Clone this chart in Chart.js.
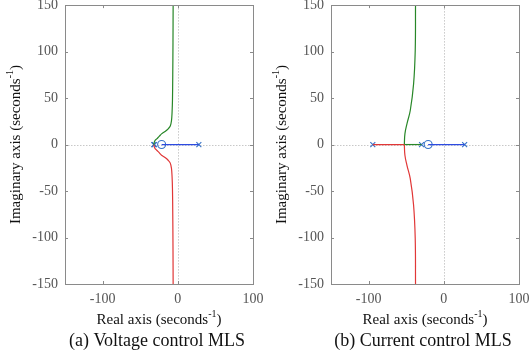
<!DOCTYPE html>
<html>
<head>
<meta charset="utf-8">
<script src="https://cdn.jsdelivr.net/npm/chart.js@4.4.1/dist/chart.umd.min.js"></script>
<style>
  body { margin: 0; background: #fff; }
  .wrap { display: flex; width: 532px; height: 351px; }
  .box { position: relative; width: 266px; height: 351px; }
</style>
</head>
<body>
<div class="wrap">
  <div class="box"><canvas id="chartA"></canvas></div>
  <div class="box"><canvas id="chartB"></canvas></div>
</div>
<script>
// tick labels
const xTicks = [-100, 0, 100];
const yTicks = [-150, -100, -50, 0, 50, 100, 150];

// (a) voltage control
const polesA = [-32, -31, 28];
const zerosA = [-21.5];
const blueA_x = [-21.5, 28];
const greenA_x = [-32, -30.5, -28, -24.5, -21.6, -17, -12.8, -10, -8.4, -7.6, -7.1, -6.7, -6.4, -6.2];
const greenA_y = [0, 4, 6.1, 9, 11.5, 14, 16.9, 20, 25.8, 35, 47, 75, 110, 150];
const redA_x = [-32, -30.5, -28, -24.5, -21.6, -17, -12.8, -10, -8.4, -7.6, -7.1, -6.7, -6.4, -6.2];
const redA_y = [0, -4, -6.1, -9, -11.5, -14, -16.9, -20, -25.8, -35, -47, -75, -110, -150];

// (b) current control
const polesB = [-94.4, -29.6, 27.7];
const zerosB = [-20.8];
const blueB_x = [-20.8, 27.7];
const redRealB_x = [-94.4, -52.5];
const greenRealB_x = [-29.6, -52.5];
const greenB_x = [-52.5, -51.7, -49, -44.6, -40.2, -38, -37.6];
const greenB_y = [0, 11.5, 22.3, 36.6, 65, 101, 150];
const redB_x = [-52.5, -51.7, -49, -44.6, -40.2, -38, -37.6];
const redB_y = [0, -11.5, -22.3, -36.6, -65, -101, -150];

const BLUE = "rgb(45, 75, 225)";
const MARK = "rgb(55, 115, 200)";
const GREEN = "rgb(40, 135, 40)";
const RED = "rgb(225, 55, 55)";
const SERIF = "'Liberation Serif', 'DejaVu Serif', serif";

function pts(xs, ys) {
  return xs.map((x, i) => ({ x: x, y: ys ? ys[i] : 0 }));
}

function lineSet(data, color) {
  return {
    data: data,
    showLine: true,
    borderColor: color,
    borderWidth: 1.2,
    pointRadius: 0,
    tension: 0.4,
    fill: false,
  };
}

function markSet(data, style) {
  return {
    data: data,
    showLine: false,
    pointStyle: style,
    pointRadius: style === "circle" ? 4 : 3.5,
    borderColor: MARK,
    backgroundColor: "rgba(0,0,0,0)",
    borderWidth: 1.1,
  };
}

function drawSup(ctx, pre, sup, post, x, y, size) {
  ctx.font = size + "px " + SERIF;
  const w1 = ctx.measureText(pre).width;
  const w3 = ctx.measureText(post).width;
  ctx.font = Math.round(size * 0.65) + "px " + SERIF;
  const w2 = ctx.measureText(sup).width;
  let sx = x - (w1 + w2 + w3) / 2;
  ctx.textAlign = "left";
  ctx.textBaseline = "middle";
  ctx.font = size + "px " + SERIF;
  ctx.fillText(pre, sx, y);
  ctx.font = Math.round(size * 0.65) + "px " + SERIF;
  ctx.fillText(sup, sx + w1, y - size * 0.38);
  ctx.font = size + "px " + SERIF;
  ctx.fillText(post, sx + w1 + w2, y);
}

const framePlugin = {
  id: "frame",
  beforeDatasetsDraw(chart) {
    const ctx = chart.ctx;
    const a = chart.chartArea;
    const x0 = chart.scales.x.getPixelForValue(0);
    const y0 = chart.scales.y.getPixelForValue(0);
    ctx.save();
    ctx.strokeStyle = "#c8c8c8";
    ctx.lineWidth = 1;
    ctx.setLineDash([1.5, 1.5]);
    ctx.beginPath();
    ctx.moveTo(Math.round(x0) + 0.5, a.top);
    ctx.lineTo(Math.round(x0) + 0.5, a.bottom);
    ctx.moveTo(a.left, Math.round(y0) + 0.5);
    ctx.lineTo(a.right, Math.round(y0) + 0.5);
    ctx.stroke();
    ctx.restore();
  },
  afterDraw(chart) {
    const ctx = chart.ctx;
    const a = chart.chartArea;
    const opts = chart.options.plugins.frame;
    ctx.save();
    ctx.strokeStyle = "#8a8a8a";
    ctx.lineWidth = 1;
    ctx.strokeRect(Math.round(a.left) + 0.5, Math.round(a.top) + 0.5,
      Math.round(a.right - a.left), Math.round(a.bottom - a.top));
    ctx.beginPath();
    xTicks.forEach((v) => {
      const px = Math.round(chart.scales.x.getPixelForValue(v)) + 0.5;
      ctx.moveTo(px, a.bottom); ctx.lineTo(px, a.bottom - 3);
      ctx.moveTo(px, a.top); ctx.lineTo(px, a.top + 3);
    });
    yTicks.forEach((v) => {
      const py = Math.round(chart.scales.y.getPixelForValue(v)) + 0.5;
      ctx.moveTo(a.left, py); ctx.lineTo(a.left + 3, py);
      ctx.moveTo(a.right, py); ctx.lineTo(a.right - 3, py);
    });
    ctx.stroke();

    const cx = (a.left + a.right) / 2;
    ctx.fillStyle = "#111";
    drawSup(ctx, "Real axis (seconds", "-1", ")", cx, 320, 15);
    ctx.save();
    ctx.translate(16, (a.top + a.bottom) / 2);
    ctx.rotate(-Math.PI / 2);
    drawSup(ctx, "Imaginary axis (seconds", "-1", ")", 0, 0, 15);
    ctx.restore();
    ctx.font = "18px " + SERIF;
    ctx.textAlign = "center";
    ctx.textBaseline = "middle";
    ctx.fillText(opts.caption, cx - 2, 341);
    ctx.restore();
  },
};

function makeChart(id, datasets, caption) {
  return new Chart(document.getElementById(id), {
    type: "scatter",
    data: { datasets: datasets },
    plugins: [framePlugin],
    options: {
      responsive: false,
      animation: false,
      layout: { padding: { top: 5, right: 13, left: 0, bottom: 0 } },
      plugins: {
        legend: { display: false },
        tooltip: { enabled: false },
        frame: { caption: caption },
      },
      scales: {
        x: {
          type: "linear",
          min: -150,
          max: 100,
          afterBuildTicks: (s) => { s.ticks = xTicks.map((v) => ({ value: v })); },
          afterFit: (s) => { s.height = 67; s.paddingLeft = 0; s.paddingRight = 0; },
          grid: { display: false, drawTicks: false },
          border: { display: false },
          ticks: {
            color: "#555",
            font: { family: SERIF, size: 14 },
            padding: 7,
          },
        },
        y: {
          type: "linear",
          min: -150,
          max: 150,
          afterBuildTicks: (s) => { s.ticks = yTicks.map((v) => ({ value: v })); },
          afterFit: (s) => { s.width = 65; s.paddingTop = 0; s.paddingBottom = 0; },
          grid: { display: false, drawTicks: false },
          border: { display: false },
          ticks: {
            color: "#555",
            font: { family: SERIF, size: 14 },
            padding: 7,
          },
        },
      },
    },
  });
}

document.getElementById("chartA").width = 266;
document.getElementById("chartA").height = 351;
document.getElementById("chartB").width = 266;
document.getElementById("chartB").height = 351;

makeChart("chartA", [
  lineSet(pts(greenA_x, greenA_y), GREEN),
  lineSet(pts(redA_x, redA_y), RED),
  lineSet(pts(blueA_x), BLUE),
  markSet(pts(polesA), "crossRot"),
  markSet(pts(zerosA), "circle"),
], "(a) Voltage control MLS");

makeChart("chartB", [
  lineSet(pts(redRealB_x), RED),
  lineSet(pts(greenRealB_x), GREEN),
  lineSet(pts(greenB_x, greenB_y), GREEN),
  lineSet(pts(redB_x, redB_y), RED),
  lineSet(pts(blueB_x), BLUE),
  markSet(pts(polesB), "crossRot"),
  markSet(pts(zerosB), "circle"),
], "(b) Current control MLS");
</script>
</body>
</html>
